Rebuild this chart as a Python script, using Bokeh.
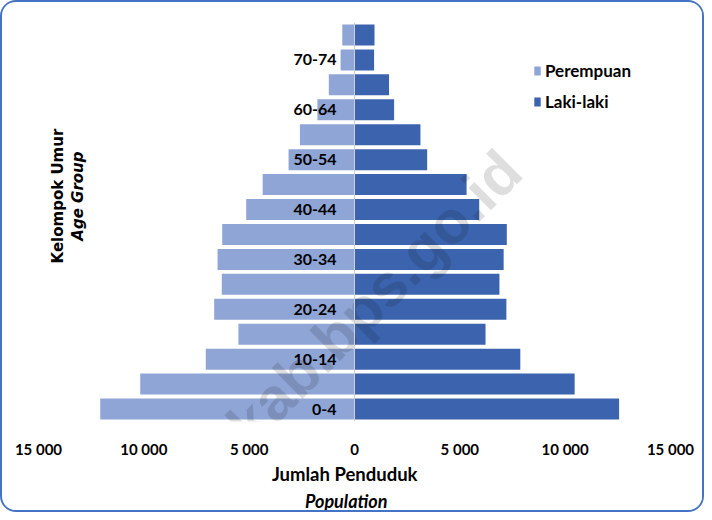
import math
from bokeh.plotting import figure
from bokeh.models import (ColumnDataSource, FactorRange, Range1d, FixedTicker,
                          Legend, Label, Span, Title)
from bokeh.core.properties import value
from bokeh.embed import file_html
from bokeh.resources import INLINE

# ---- data (bottom to top) ----
age_groups = ["0-4", "5-9", "10-14", "15-19", "20-24", "25-29", "30-34", "35-39",
              "40-44", "45-49", "50-54", "55-59", "60-64", "65-69", "70-74", "75+"]
perempuan = [12070, 10170, 7060, 5510, 6660, 6300, 6500, 6280,
             5140, 4360, 3130, 2590, 1760, 1220, 660, 580]
laki_laki = [12560, 10450, 7870, 6220, 7210, 6880, 7080, 7230,
             5920, 5320, 3450, 3130, 1880, 1640, 930, 950]
shown_labels = age_groups[::2]
tick_values = [-15000, -10000, -5000, 0, 5000, 10000, 15000]
tick_labels = ["15 000", "10 000", "5 000", "0", "5 000", "10 000", "15 000"]

FEMALE = "#8FA5D6"
MALE = "#3C64AE"
FONT = "Lato"

src = ColumnDataSource(dict(age=age_groups,
                            female=[-v for v in perempuan],
                            male=laki_laki))

p = figure(width=700, height=508, output_backend="svg", toolbar_location=None,
           y_range=FactorRange(factors=age_groups, range_padding=0),
           x_range=Range1d(-15000, 15000), y_axis_location=None)
p.min_border_left = 36
p.min_border_right = 36
p.min_border_top = 20
p.min_border_bottom = 88
p.outline_line_color = None
p.grid.visible = False
p.background_fill_color = "white"
p.border_fill_color = "white"
p.styles = {"border": "2px solid #4472C4", "border-radius": "16px",
            "box-sizing": "content-box", "overflow": "hidden"}

rf = p.hbar(y="age", left=0, right="female", height=0.84, source=src,
            fill_color=FEMALE, line_color=None)
rm = p.hbar(y="age", left=0, right="male", height=0.84, source=src,
            fill_color=MALE, line_color=None)

p.add_layout(Span(location=0, dimension="height", line_color="#D0D0D0",
                  line_width=1, level="overlay"))

lab_src = ColumnDataSource(dict(y=shown_labels, text=shown_labels))
p.text(x=0, y="y", text="text", source=lab_src, x_offset=-18,
       text_align="right", text_baseline="middle",
       text_font=value(FONT), text_font_size="16px",
       text_font_style="bold", text_color="black")

ax = p.xaxis[0]
ax.ticker = FixedTicker(ticks=tick_values)
ax.major_label_overrides = {v: s for v, s in zip(tick_values, tick_labels)}
ax.axis_line_color = None
ax.major_tick_line_color = None
ax.minor_tick_line_color = None
ax.major_tick_out = 0
ax.major_tick_in = 0
ax.major_label_standoff = 18
ax.major_label_text_font = FONT
ax.major_label_text_font_size = "15px"
ax.major_label_text_font_style = "bold"
ax.major_label_text_color = "black"

# x-axis titles (below)
p.add_layout(Title(text="Jumlah Penduduk", align="right", offset=253,
                   text_font=FONT, text_font_size="18.5px", text_font_style="bold",
                   text_color="black", standoff=0), "below")
p.add_layout(Title(text="Population", align="right", offset=283,
                   text_font=FONT, text_font_size="18px", text_font_style="bold italic",
                   text_color="black", standoff=6), "below")

# y-axis titles (inside the plot area, like the reference)
p.add_layout(Label(x=-14070, y=9.04, text="Kelompok Umur", angle=math.pi / 2,
                   text_align="center", text_baseline="middle",
                   text_font="DejaVu Sans", text_font_size="15px",
                   text_font_style="bold", text_color="black"))
p.add_layout(Label(x=-13120, y=9.04, text="Age Group", angle=math.pi / 2,
                   text_align="center", text_baseline="middle",
                   text_font="DejaVu Sans", text_font_size="15px",
                   text_font_style="bold italic", text_color="black"))

# watermark
p.add_layout(Label(x=-900, y=3.4, text="birekab.bps.go.id", angle=math.radians(45),
                   text_align="center", text_baseline="middle",
                   text_font="Liberation Sans", text_font_size="60px",
                   text_font_style="bold", text_color="black", text_alpha=0.13))

legend = Legend(items=[("Perempuan", [rf]), ("Laki-laki", [rm])],
                location=(495, 309), orientation="vertical")
legend.glyph_width = 8
legend.glyph_height = 11
legend.label_height = 20
legend.spacing = 10
legend.padding = 0
legend.margin = 0
legend.label_standoff = 4
legend.border_line_color = None
legend.background_fill_alpha = 0
legend.label_text_font = FONT
legend.label_text_font_size = "17px"
legend.label_text_font_style = "bold"
legend.label_text_color = "black"
p.add_layout(legend)

open("out.html", "w").write(file_html(p, INLINE))
